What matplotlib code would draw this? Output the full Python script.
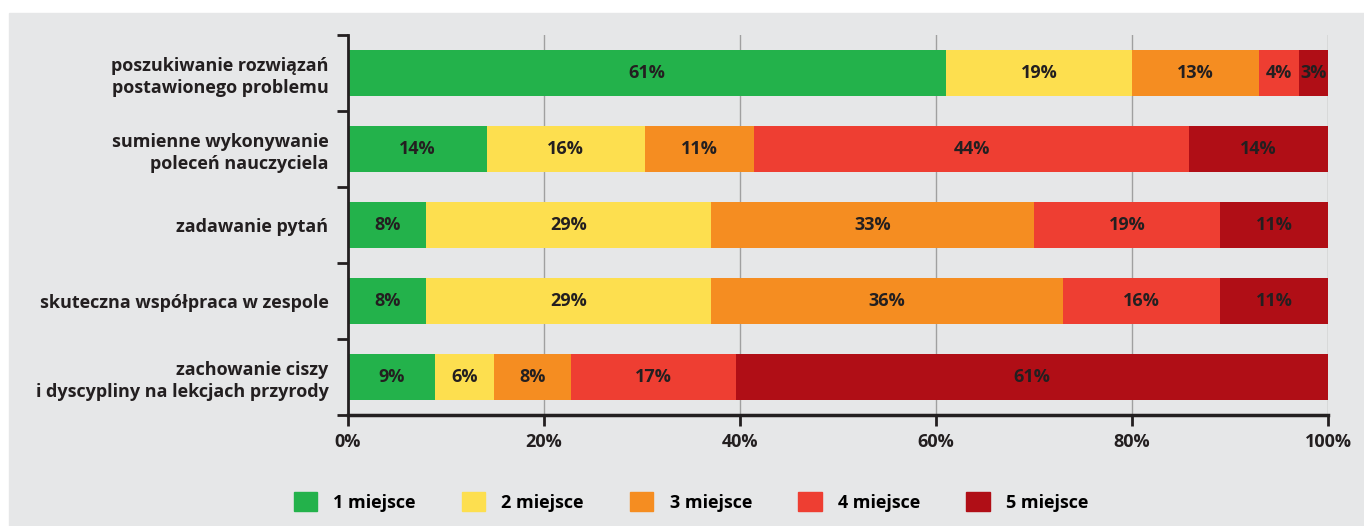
import matplotlib.pyplot as plt
import numpy as np
from matplotlib.patches import Patch, Rectangle

categories = [
    'poszukiwanie rozwiązań\npostawionego problemu',
    'sumienne wykonywanie\npoleceń nauczyciela',
    'zadawanie pytań',
    'skuteczna współpraca w zespole',
    'zachowanie ciszy\ni dyscypliny na lekcjach przyrody',
]
series = ['1 miejsce', '2 miejsce', '3 miejsce', '4 miejsce', '5 miejsce']
place1 = [61, 14, 8, 8, 9]
place2 = [19, 16, 29, 29, 6]
place3 = [13, 11, 33, 36, 8]
place4 = [4, 44, 19, 16, 17]
place5 = [3, 14, 11, 11, 61]
colors = ['#23b24b', '#fddf4f', '#f58d21', '#ee3e32', '#b00e16']
ticks = [0, 20, 40, 60, 80, 100]

plt.rcParams['font.family'] = ['Open Sans', 'DejaVu Sans']
plt.rcParams['font.weight'] = 'bold'
txt = '#231f20'
bg = '#e6e7e8'

data = np.array([place1, place2, place3, place4, place5], dtype=float)
share = data / data.sum(axis=0) * 100

fig = plt.figure(figsize=(13.64, 5.26), dpi=100, facecolor='white')
fig.patches.append(Rectangle((9 / 1364, 0), 1, (526 - 13) / 526,
                             transform=fig.transFigure, color=bg, zorder=-10))
ax = fig.add_axes([348 / 1364, 1 - 415 / 526, 980 / 1364, 380 / 526])
ax.set_facecolor(bg)
ax.patch.set_alpha(0)

y = np.arange(len(categories))
left = np.zeros(len(categories))
for i in range(len(series)):
    ax.barh(y, share[i], left=left, height=0.6, color=colors[i],
            label=series[i], zorder=3)
    for j in range(len(categories)):
        ax.text(left[j] + share[i][j] / 2, y[j], f'{int(data[i][j])}%',
                ha='center', va='center', fontsize=13, color=txt,
                fontweight='bold', zorder=4)
    left += share[i]

ax.set_xlim(0, 100)
ax.set_ylim(len(categories) - 0.5, -0.5)
ax.set_xticks(ticks)
ax.set_xticklabels([f'{t}%' for t in ticks], fontsize=13, color=txt,
                   fontweight='bold')
ax.set_yticks(y)
ax.set_yticklabels(categories, fontsize=13, color=txt, fontweight='bold',
                   linespacing=1.3)
ax.set_yticks(np.arange(-0.5, len(categories)), minor=True)
ax.tick_params(axis='y', which='major', length=0, pad=14)
ax.tick_params(axis='y', which='minor', length=8, width=2, color=txt)
ax.tick_params(axis='x', length=8, width=2, color=txt, pad=5)
ax.grid(axis='x', color='#a0a0a0', linewidth=1, zorder=0)
for s in ['top', 'right']:
    ax.spines[s].set_visible(False)
ax.spines['left'].set_linewidth(2)
ax.spines['left'].set_color(txt)
ax.spines['bottom'].set_linewidth(2.5)
ax.spines['bottom'].set_color(txt)
ax.spines['left'].set_zorder(5)

handles = [Patch(color=c, label=s) for c, s in zip(colors, series)]
fig.legend(handles=handles, loc='center', bbox_to_anchor=(691 / 1364, 1 - 502 / 526),
           ncol=5, frameon=False, fontsize=13, handlelength=1.28,
           handleheight=1.2, handletextpad=0.9, columnspacing=2.57)

fig.savefig('out.png', dpi=100, facecolor='white')
